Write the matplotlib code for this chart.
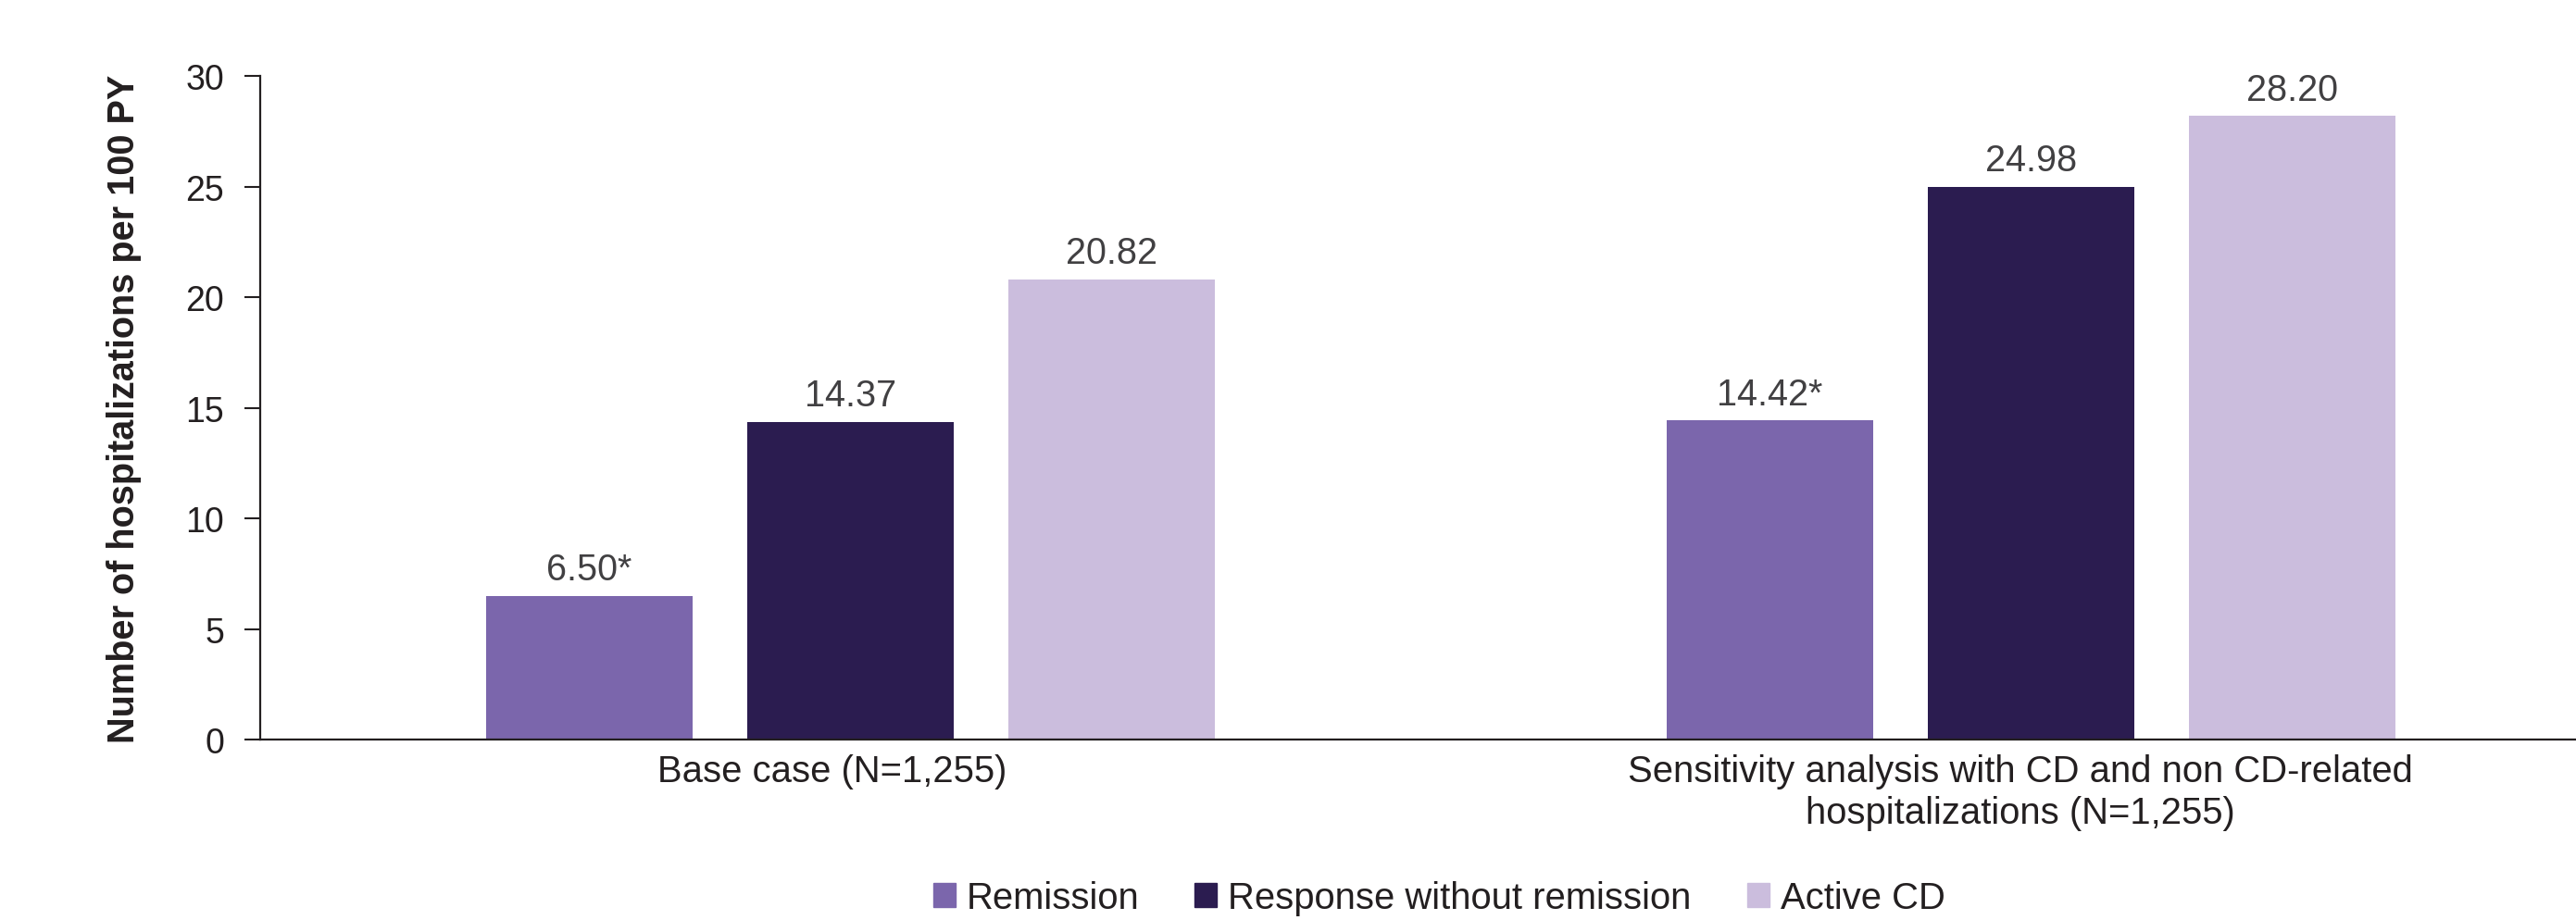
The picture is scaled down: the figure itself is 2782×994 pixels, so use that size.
import matplotlib
matplotlib.use("Agg")
import matplotlib.pyplot as plt
import matplotlib.transforms as mtransforms
import numpy as np
from matplotlib.patches import Patch

groups = ["Base case (N=1,255)",
          "Sensitivity analysis with CD and non CD-related\nhospitalizations (N=1,255)"]
series = ["Remission", "Response without remission", "Active CD"]
remission = [6.50, 14.42]
response = [14.37, 24.98]
active = [20.82, 28.20]
remission_labels = ["6.50*", "14.42*"]
response_labels = ["14.37", "24.98"]
active_labels = ["20.82", "28.20"]
yticks = [0, 5, 10, 15, 20, 25, 30]

colors = ["#7b66ac", "#2b1c50", "#cbbddd"]
ink = "#231f20"
plt.rcParams["font.family"] = ["Liberation Sans", "DejaVu Sans"]

fig = plt.figure(figsize=(27.82, 9.95), dpi=100)
ax = fig.add_axes([0.101, 0.196, 0.899, 0.7203])

x = np.arange(len(groups))
width = 0.1745
step = 0.2212
values = [remission, response, active]
labels = [remission_labels, response_labels, active_labels]
for i, (vals, lab) in enumerate(zip(values, labels)):
    bars = ax.bar(x + (i - 1) * step, vals, width, color=colors[i], label=series[i])
    ax.bar_label(bars, labels=lab, padding=7, fontsize=28.5, color="#414042")

ax.set_xlim(-0.5, 1.4616)
ax.set_ylim(0, 30)
ax.set_yticks(yticks)
ax.set_yticklabels([str(t) for t in yticks], fontsize=27, color=ink)
ax.set_xticks(x)
ax.set_xticklabels(groups, fontsize=28.8, color=ink, linespacing=1.22)
ax.tick_params(axis="x", length=0, pad=11)
ax.tick_params(axis="y", length=12, width=1.5, color=ink, pad=16)

# category captions sit a little left of the bar group centres
for lbl, dx in zip(ax.get_xticklabels(), [-0.2, -0.12]):
    lbl.set_transform(lbl.get_transform()
                      + mtransforms.ScaledTranslation(dx, 0, fig.dpi_scale_trans))

for side in ["top", "right"]:
    ax.spines[side].set_visible(False)
for side in ["left", "bottom"]:
    ax.spines[side].set_linewidth(1.6)
    ax.spines[side].set_color(ink)

ax.set_ylabel("Number of hospitalizations per 100 PY", fontsize=28.5,
              fontweight="bold", color=ink)
ax.yaxis.set_label_coords(-0.0513, 0.5)

handles = [Patch(color=c, label=s) for c, s in zip(colors, series)]
fig.legend(handles=handles, loc="center", bbox_to_anchor=(0.5586, 0.024),
           ncol=3, frameon=False, fontsize=28.8, handlelength=0.6,
           handleheight=0.6, handletextpad=0.3, columnspacing=1.5,
           borderpad=0, labelcolor=ink)

fig.savefig("out.png", dpi=100)
